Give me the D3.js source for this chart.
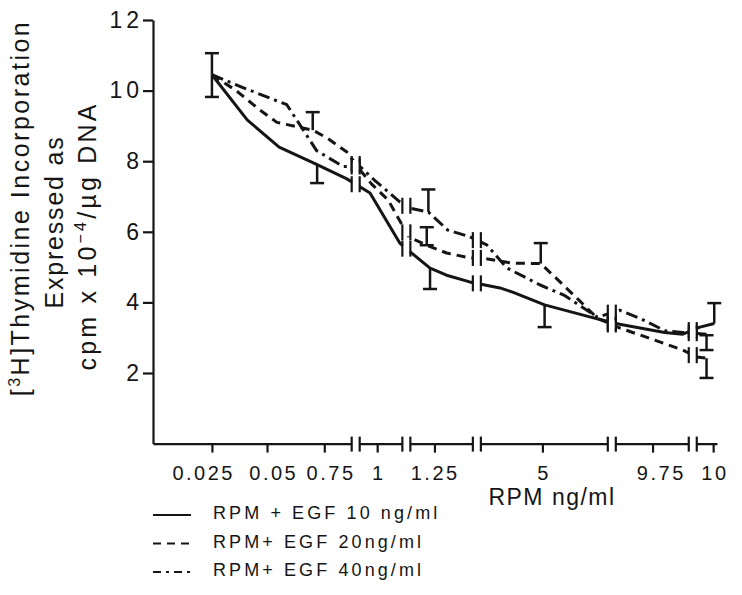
<!DOCTYPE html>
<html><head><meta charset="utf-8">
<script src="https://cdn.jsdelivr.net/npm/d3@7"></script>
<style>
body{margin:0;background:#fff;}
svg text{font-family:"Liberation Sans",Arial,Helvetica,sans-serif;fill:#151515;}
</style></head><body>
<svg id="chart" width="742" height="595"></svg>
<script>
// ---------- data ----------
const categories = ["0.025","0.05","0.75","1","1.25","5","9.75","10"];
const categoryAxisPos = [0, 1, 2.04, 3, 4.04, 6, 8, 9.1];   // place of each category on the broken axis
const axisBreaks = [2.61, 3.53, 4.81, 7.26, 8.73];
const yTicks = [2, 4, 6, 8, 10, 12];
const seriesNames = ["RPM + EGF 10 ng/ml", "RPM+ EGF 20ng/ml", "RPM+ EGF 40ng/ml"];

// EGF 10 ng/ml (solid)
const egf10Pos = [0, 0.64, 1.22, 1.91, 2.45, 2.87, 3.41, 3.6, 3.96, 4.26, 4.68, 5.23, 5.46, 6.04, 6.86, 7.08, 7.4, 8.22, 8.55, 8.86, 9.12];
const egf10Val = [10.45, 9.17, 8.4, 7.9, 7.5, 7.1, 5.68, 5.43, 4.97, 4.77, 4.58, 4.41, 4.29, 3.93, 3.59, 3.5, 3.38, 3.15, 3.1, 3.3, 3.4];
// EGF 20 ng/ml (dashed)
const egf20Pos = [0, 0.44, 0.87, 1.18, 1.65, 1.83, 2.1, 2.45, 2.69, 2.9, 3.2, 3.45, 3.58, 3.9, 4.26, 4.68, 4.9, 5.46, 5.97, 6.32, 6.64, 7.0, 7.4, 8.55, 8.8, 8.98];
const egf20Val = [10.45, 10.0, 9.45, 9.1, 8.94, 8.88, 8.65, 8.26, 7.75, 7.35, 6.9, 6.2, 5.85, 5.62, 5.4, 5.26, 5.26, 5.11, 5.1, 4.58, 4.1, 3.55, 3.28, 2.65, 2.45, 2.42];
// EGF 40 ng/ml (dash-dot)
const egf40Pos = [0, 0.54, 1.36, 1.9, 2.38, 2.69, 2.96, 3.41, 3.6, 3.93, 4.28, 4.68, 4.99, 5.35, 5.95, 6.41, 7.0, 7.4, 7.77, 8.22, 8.55, 8.8, 8.98];
const egf40Val = [10.45, 10.1, 9.6, 8.3, 7.85, 7.85, 7.45, 6.85, 6.67, 6.56, 6.05, 5.86, 5.63, 4.98, 4.5, 4.19, 3.58, 3.78, 3.55, 3.2, 3.15, 3.12, 3.1];

// error bars: position, value on the line, end of the bar
const errPos   = [0,     0,    1.83, 1.91, 3.93, 3.9,  3.96, 5.97, 6.04, 9.12, 8.98, 8.98];
const errValue = [10.45, 10.45, 8.88, 7.9,  6.56, 5.62, 4.97, 5.1,  3.93, 3.4,  3.07, 2.42];
const errEnd   = [11.06, 9.82, 9.39, 7.38, 7.2,  6.13, 4.38, 5.68, 3.3,  3.98, 2.65, 1.86];
const errBoth  = [false, false, false, false, false, true, false, false, false, false, true, false];

// ---------- chart ----------
const svg = d3.select("#chart");
const x = d3.scaleLinear().domain([-1.07, 9.17]).range([153, 717]);
const y = d3.scaleLinear().domain([0, 12]).range([443.6, 20]);
const ink = "#151515";
const FONT = "Liberation Sans, Arial, sans-serif";

// y axis
const gy = svg.append("g").attr("transform", `translate(${x(-1.07)},0)`)
  .call(d3.axisLeft(y).tickValues(yTicks).tickSize(10).tickSizeOuter(0).tickPadding(0).tickFormat(d3.format("d")));
gy.select(".domain").attr("stroke", ink).attr("stroke-width", 2.2);
gy.selectAll(".tick line").attr("stroke", ink).attr("stroke-width", 2.2);
gy.selectAll(".tick text").attr("font-size", 23).attr("letter-spacing", 4).attr("fill", ink)
  .style("font-family", FONT);

// x axis
const labelNudge = [-10, 5, 5, 0, -1, 0, 7, 0];
const gx = svg.append("g").attr("transform", `translate(0,${y(0)})`)
  .call(d3.axisBottom(x).tickValues(categoryAxisPos).tickSize(9).tickSizeOuter(0).tickPadding(13)
    .tickFormat((d, i) => categories[i]));
gx.select(".domain").attr("stroke", ink).attr("stroke-width", 2.2);
gx.selectAll(".tick line").attr("stroke", ink).attr("stroke-width", 2.2);
gx.selectAll(".tick text").attr("font-size", 20).attr("letter-spacing", 2.5).attr("fill", ink)
  .attr("dx", (d, i) => labelNudge[i] + 1.25)
  .style("font-family", FONT);

// axis breaks
axisBreaks.forEach(b => {
  const bx = x(b);
  svg.append("rect").attr("x", bx - 4).attr("y", y(0) - 3).attr("width", 8).attr("height", 6).attr("fill", "#fff");
  [-4, 4].forEach(o => svg.append("line").attr("x1", bx + o).attr("x2", bx + o)
    .attr("y1", y(0) - 7).attr("y2", y(0) + 8).attr("stroke", ink).attr("stroke-width", 2.2));
});

// series
const series = [
  {pos: egf10Pos, val: egf10Val, dash: null},
  {pos: egf20Pos, val: egf20Val, dash: "9,6"},
  {pos: egf40Pos, val: egf40Val, dash: "12,5,3,5"}
];
const line = d3.line().x(d => x(d[0])).y(d => y(d[1]));
series.forEach(s => {
  svg.append("path").datum(d3.zip(s.pos, s.val)).attr("d", line)
    .attr("fill", "none").attr("stroke", ink).attr("stroke-width", 3)
    .attr("stroke-linejoin", "round")
    .attr("stroke-dasharray", s.dash);
});

// error bars
errPos.forEach((p, i) => {
  const ex = x(p);
  svg.append("line").attr("x1", ex).attr("x2", ex).attr("y1", y(errValue[i])).attr("y2", y(errEnd[i]))
    .attr("stroke", ink).attr("stroke-width", 2.5);
  const caps = errBoth[i] ? [errEnd[i], errValue[i]] : [errEnd[i]];
  caps.forEach(c => svg.append("line").attr("x1", ex - 7).attr("x2", ex + 7).attr("y1", y(c)).attr("y2", y(c))
    .attr("stroke", ink).attr("stroke-width", 2.5));
});

// breaks on the lines
function valueAt(pos, val, p) {
  for (let i = 0; i < pos.length - 1; i++) {
    if (p >= pos[i] && p <= pos[i + 1]) {
      const t = (p - pos[i]) / (pos[i + 1] - pos[i]);
      return val[i] + t * (val[i + 1] - val[i]);
    }
  }
  return null;
}
axisBreaks.forEach(b => {
  series.forEach(s => {
    const v = valueAt(s.pos, s.val, b);
    if (v == null) return;
    const bx = x(b), by = y(v);
    svg.append("rect").attr("x", bx - 3.5).attr("y", by - 4).attr("width", 7).attr("height", 8).attr("fill", "#fff");
    [-4, 4].forEach(o => svg.append("line").attr("x1", bx + o).attr("x2", bx + o)
      .attr("y1", by - 8).attr("y2", by + 8).attr("stroke", ink).attr("stroke-width", 2.2));
  });
});

// y title
const yt = svg.append("g").attr("font-size", 25).attr("letter-spacing", 2.5);
const t1 = yt.append("text").attr("transform", "translate(29,208) rotate(-90)").attr("text-anchor", "middle");
t1.append("tspan").text("[");
t1.append("tspan").attr("font-size", 16).attr("dy", -9).text("3");
t1.append("tspan").attr("dy", 9).text("H]Thymidine Incorporation");
yt.append("text").attr("transform", "translate(63,222) rotate(-90)").attr("text-anchor", "middle")
  .attr("letter-spacing", 1.8).text("Expressed as");
const t3 = yt.append("text").attr("transform", "translate(96,236) rotate(-90)").attr("text-anchor", "middle")
  .attr("letter-spacing", 3.2);
t3.append("tspan").text("cpm x 10");
t3.append("tspan").attr("font-size", 16).attr("dy", -10).text("−4");
t3.append("tspan").attr("dy", 10).text("/µg DNA");

// x title
svg.append("text").attr("x", 552).attr("y", 505).attr("text-anchor", "middle")
  .attr("font-size", 23).attr("letter-spacing", 1.5).text("RPM ng/ml");

// legend
const legendDash = [null, "8,6", "8,5,3,5"];
seriesNames.forEach((name, i) => {
  const ly = 515 + i * 28.5;
  svg.append("line").attr("x1", 153).attr("x2", 191).attr("y1", ly).attr("y2", ly)
    .attr("stroke", ink).attr("stroke-width", 2.2).attr("stroke-dasharray", legendDash[i]);
  svg.append("text").attr("x", 213).attr("y", ly + 4).attr("font-size", 18)
    .attr("letter-spacing", 3.1).text(name);
});
</script>
</body></html>
